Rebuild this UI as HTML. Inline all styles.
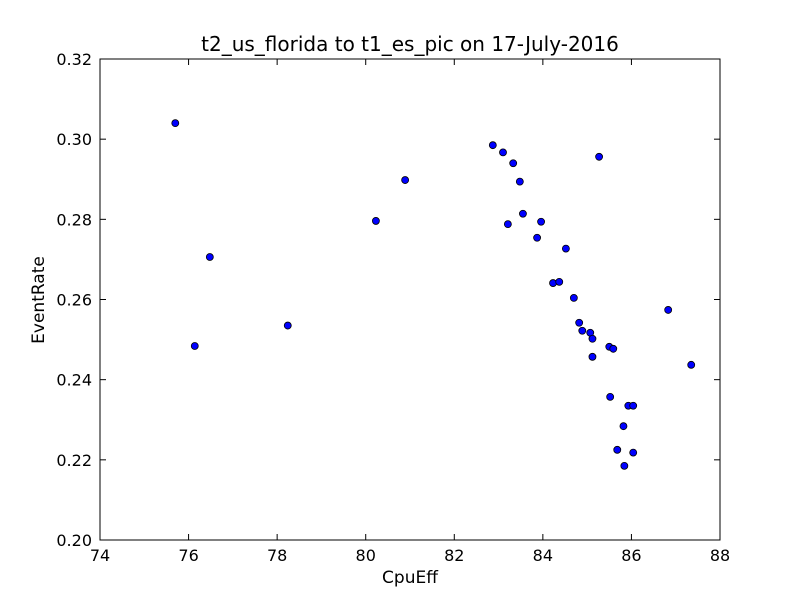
<!DOCTYPE html>
<html><head><meta charset="utf-8"><style>
body{margin:0;background:#fff;font-family:"DejaVu Sans","Liberation Sans",sans-serif}
svg text{font-family:"DejaVu Sans","Liberation Sans",sans-serif}
</style></head><body>
<svg id="chart" width="800" height="600">
<rect x="0" y="0" width="800" height="600" fill="#fff"/>
<text x="410" y="51" font-size="20" text-anchor="middle">t2_us_florida to t1_es_pic on 17-July-2016</text>
<text x="410" y="583" font-size="17" text-anchor="middle">CpuEff</text>
<text x="44" y="300" font-size="17" text-anchor="middle" transform="rotate(-90 44 300)">EventRate</text>
<g id="ticks"></g><g id="points"></g>
<rect x="100" y="59" width="620" height="481" fill="none" stroke="#000" stroke-width="1"/>
</svg>
<script>
const xTicks=[74,76,78,80,82,84,86,88];
const yTicks=[0.20,0.22,0.24,0.26,0.28,0.30,0.32];
const xVals=[75.70,76.14,76.48,78.24,80.23,80.89,82.87,83.10,83.33,83.21,83.48,83.55,83.87,83.96,84.52,84.23,84.37,84.70,84.82,84.89,85.07,85.12,85.12,85.27,85.50,85.59,85.52,85.68,85.82,85.84,85.93,86.04,86.04,86.83,87.35];
const yVals=[0.3040,0.2484,0.2706,0.2535,0.2796,0.2898,0.2985,0.2967,0.2940,0.2788,0.2894,0.2814,0.2754,0.2794,0.2727,0.2641,0.2644,0.2604,0.2542,0.2522,0.2517,0.2502,0.2457,0.2956,0.2482,0.2477,0.2357,0.2225,0.2284,0.2185,0.2335,0.2335,0.2218,0.2574,0.2437];
const L=100,R=720,T=59,B=540;
const sx=v=>L+(v-74)/(88-74)*(R-L);
const sy=v=>B-(v-0.20)/(0.32-0.20)*(B-T);
const NS="http://www.w3.org/2000/svg";
const tg=document.getElementById('ticks'),pg=document.getElementById('points');
function mk(tag,a,p){const e=document.createElementNS(NS,tag);for(const k in a)e.setAttribute(k,a[k]);p.appendChild(e);return e;}
xTicks.forEach(v=>{const x=sx(v);
 let l=mk('line',{x1:x,x2:x,y1:B,y2:B-6,stroke:'#000'},tg);
 
 
 l=mk('line',{x1:x,x2:x,y1:T,y2:T+6,stroke:'#000'},tg);
 
 
 const t=mk('text',{x:x,y:B+21,'font-size':16,'text-anchor':'middle'},tg);t.textContent=v;
 
 });
yTicks.forEach(v=>{const y=sy(v);
 let l=mk('line',{x1:L,x2:L+6,y1:y,y2:y,stroke:'#000'},tg);
 
 
 l=mk('line',{x1:R,x2:R-6,y1:y,y2:y,stroke:'#000'},tg);
 
 
 const t=mk('text',{x:L-8,y:y+6,'font-size':16,'text-anchor':'end'},tg);t.textContent=v.toFixed(2);
 
 });
xVals.forEach((v,i)=>{const c=mk('circle',{cx:sx(v),cy:sy(yVals[i]),r:3.5,fill:'#0000ff',stroke:'#000','stroke-width':0.8},pg);
 
 });
</script>
</body></html>
